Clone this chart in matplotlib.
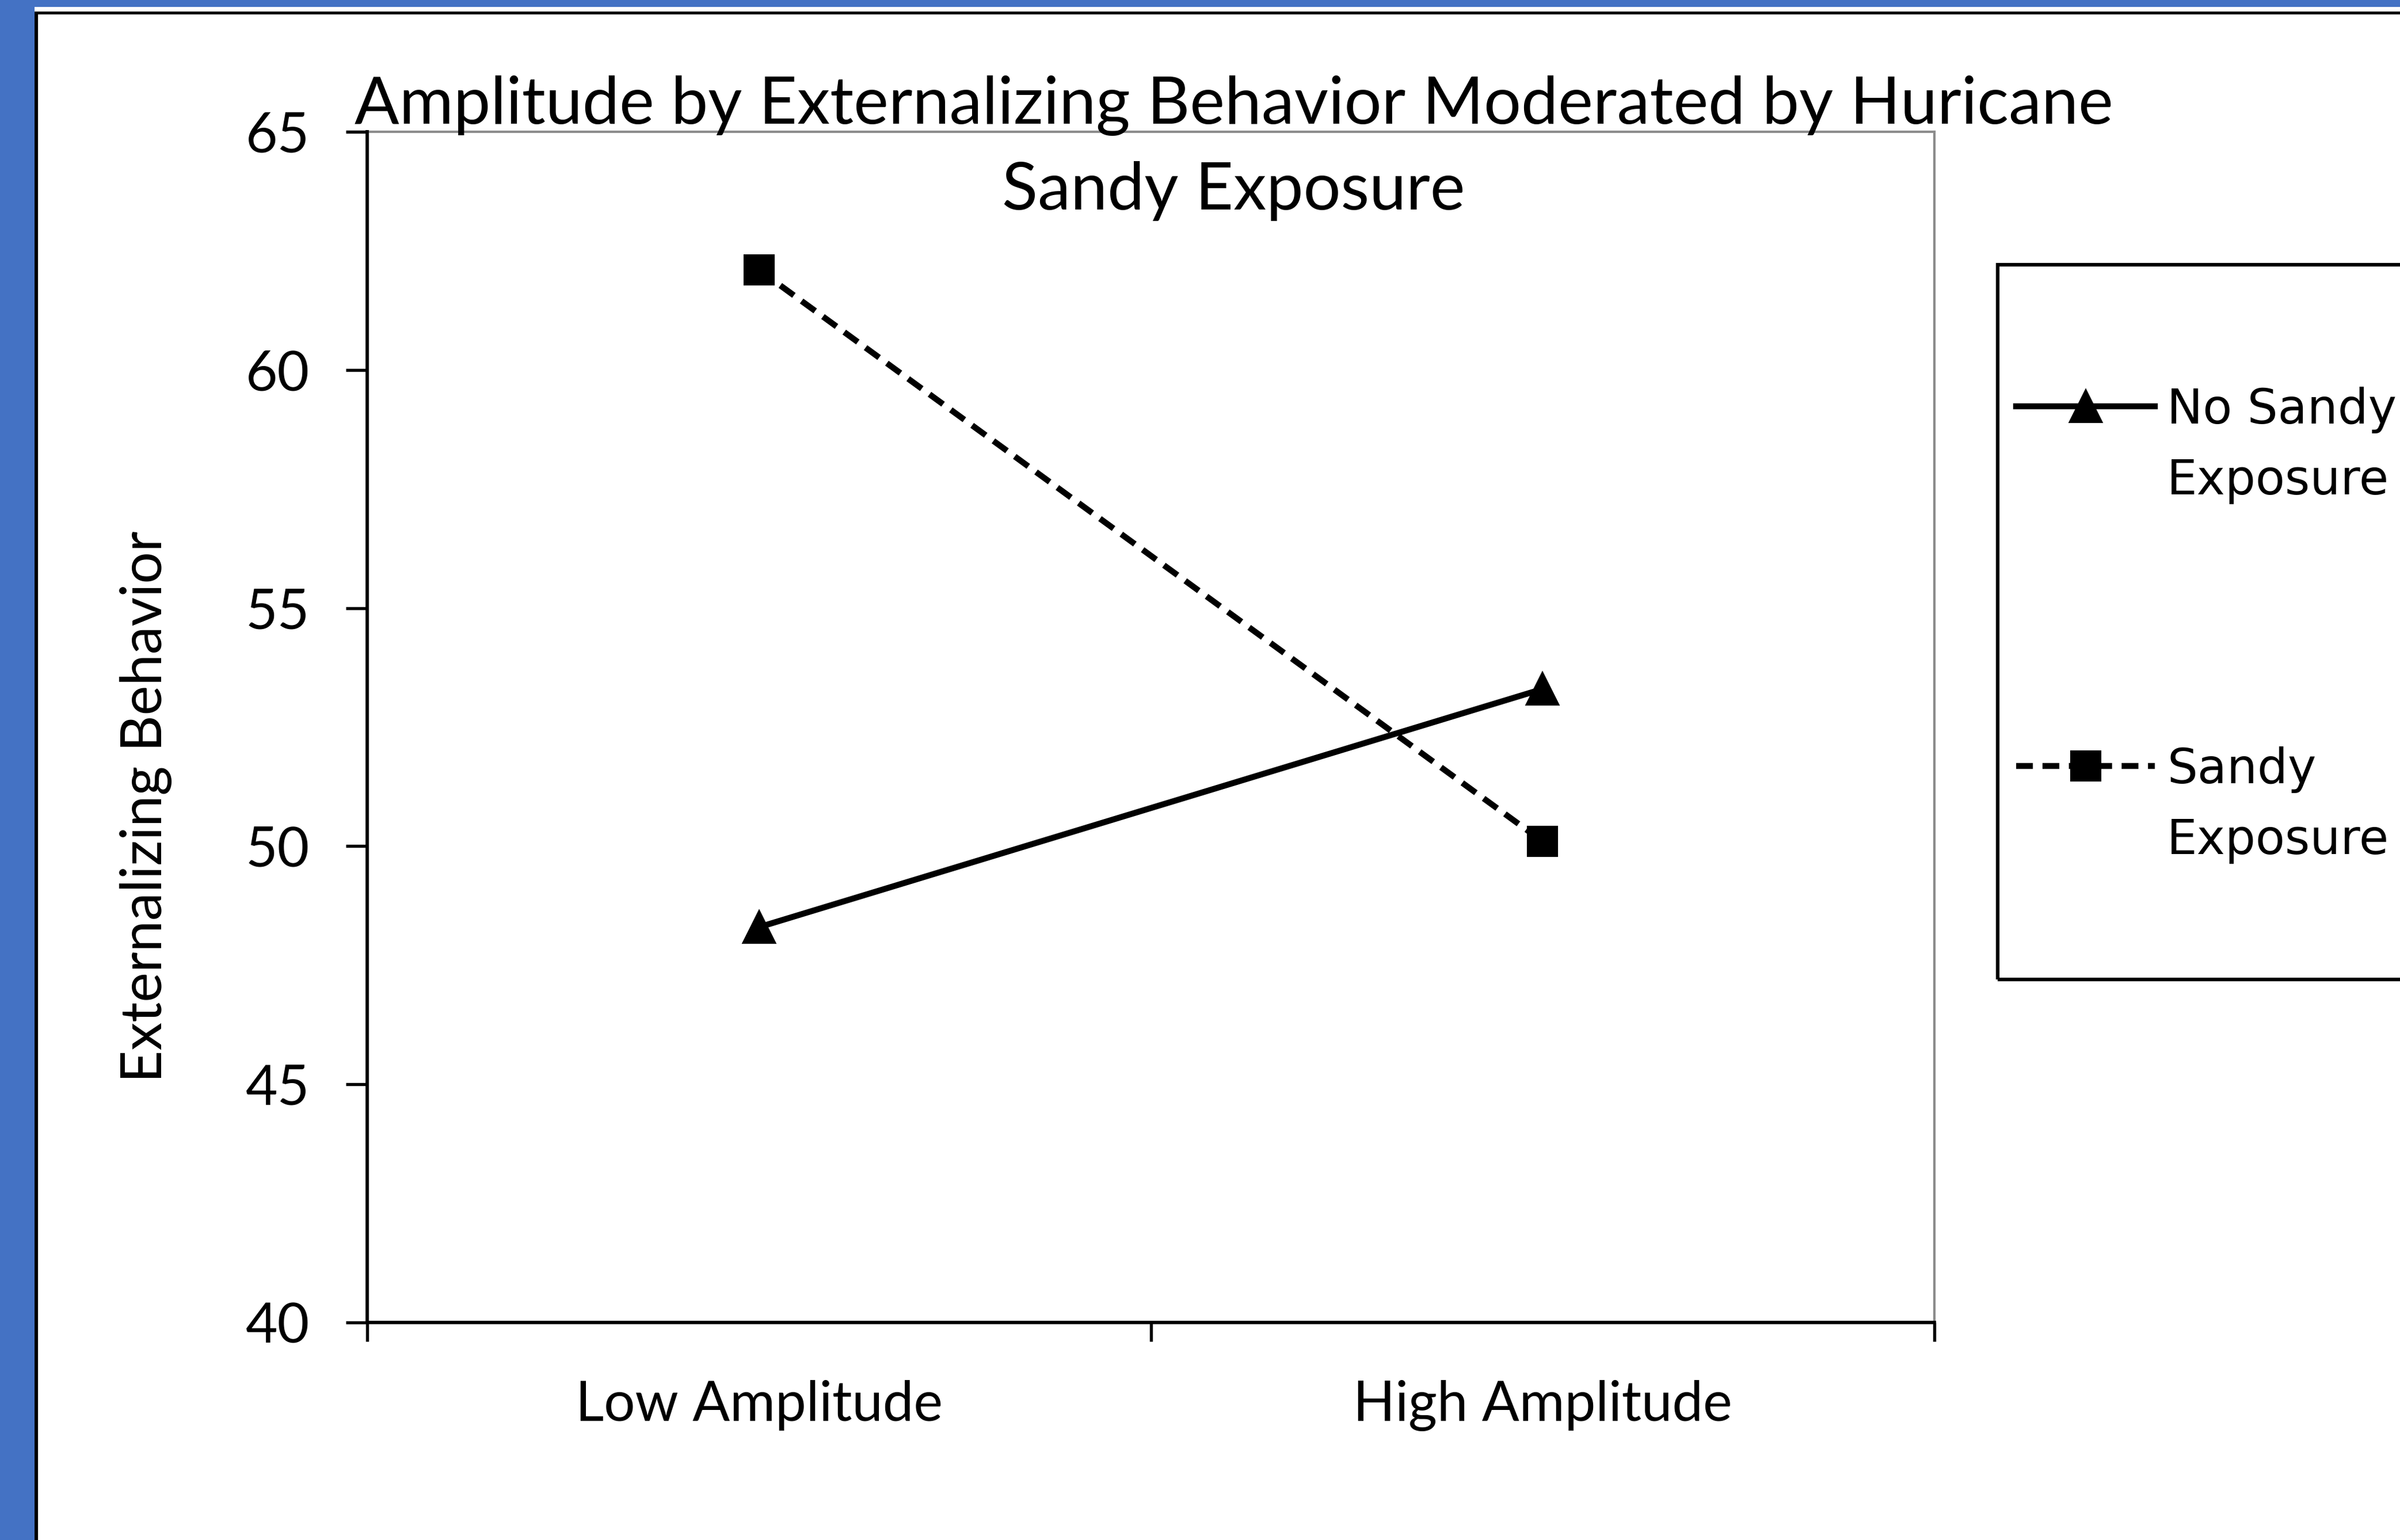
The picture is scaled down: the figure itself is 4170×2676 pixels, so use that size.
import matplotlib.pyplot as plt
from matplotlib.patches import Rectangle
from matplotlib.ticker import FixedLocator
from matplotlib.legend_handler import HandlerLine2D

# Data
categories = ["Low Amplitude", "High Amplitude"]
no_sandy = [48.3, 53.3]
sandy = [62.1, 50.1]
series_labels = ["No Sandy\nExposure", "Sandy\nExposure"]
y_ticks = [40, 45, 50, 55, 60, 65]

plt.rcParams['font.family'] = ['Lato', 'DejaVu Sans']


class FirstLineHandler(HandlerLine2D):
    # put the legend sample level with the first line of a two-line label
    def __init__(self, shift, **kw):
        super().__init__(**kw)
        self.shift = shift

    def create_artists(self, legend, orig_handle, xdescent, ydescent,
                       width, height, fontsize, trans):
        return super().create_artists(legend, orig_handle, xdescent,
                                      ydescent - self.shift, width, height,
                                      fontsize, trans)


fig = plt.figure(figsize=(13.9, 8.92), dpi=300)
fig.patch.set_facecolor('white')

# slide frame: blue strip on the left and top, thin black rule inside it
blue = '#4472c4'
fig.add_artist(Rectangle((0, 0), 0.0144, 1, transform=fig.transFigure, color=blue, lw=0))
fig.add_artist(Rectangle((0, 0.9955), 1, 0.0045, transform=fig.transFigure, color=blue, lw=0))
fig.add_artist(Rectangle((0.0144, 0), 0.0014, 0.9925, transform=fig.transFigure, color='black', lw=0))
fig.add_artist(Rectangle((0.0144, 0.9905), 1, 0.002, transform=fig.transFigure, color='black', lw=0))

ax = fig.add_axes([0.153, 0.1413, 0.653, 0.7731])
x = range(len(categories))
l1, = ax.plot(x, no_sandy, color='black', lw=2.5, marker='^', ms=13, label=series_labels[0])
l2, = ax.plot(x, sandy, color='black', lw=2.5, ls=(0, (2.8, 1.6)), marker='s', ms=12,
              label=series_labels[1])

ax.set_xlim(-0.5, 1.5)
ax.set_ylim(40, 65)
ax.set_yticks(y_ticks)
ax.xaxis.set_major_locator(FixedLocator([-0.5, 0.5, 1.5]))
ax.xaxis.set_major_formatter(plt.NullFormatter())
ax.xaxis.set_minor_locator(FixedLocator(list(x)))
ax.set_xticklabels(categories, minor=True)

ax.tick_params(axis='y', direction='out', length=9, width=1.3, pad=15, labelsize=23)
ax.tick_params(axis='x', which='major', direction='out', length=8, width=1.3)
ax.tick_params(axis='x', which='minor', length=0, pad=24, labelsize=23)

for side in ['left', 'bottom']:
    ax.spines[side].set_linewidth(1.4)
    ax.spines[side].set_color('black')
for side in ['top', 'right']:
    ax.spines[side].set_linewidth(1.0)
    ax.spines[side].set_color('#8c8c8c')
ax.spines['left'].set_zorder(3)

fig.text(0.514, 0.951, "Amplitude by Externalizing Behavior Moderated by Huricane\nSandy Exposure",
         ha='center', va='top', fontsize=27.5, linespacing=1.52)
fig.text(0.0607, 0.476, "Externalizing Behavior", rotation=90, ha='center', va='center',
         fontsize=23.5)

# legend box sticks out past the right edge, as in the original
fig.add_artist(Rectangle((0.8323, 0.364), 0.3, 0.464, transform=fig.transFigure,
                         facecolor='none', edgecolor='black', lw=1.5))
hmap = {l1: FirstLineHandler(34), l2: FirstLineHandler(34)}
leg = fig.legend(handles=[l1, l2], loc='upper left', bbox_to_anchor=(0.840, 0.749),
                 frameon=False, borderpad=0, borderaxespad=0, handlelength=2.9,
                 handletextpad=0.25, labelspacing=5.05, handler_map=hmap,
                 prop={'family': 'DejaVu Sans', 'size': 20})
for t in leg.get_texts():
    t.set_linespacing(1.66)

fig.savefig('out.png', dpi=300)
